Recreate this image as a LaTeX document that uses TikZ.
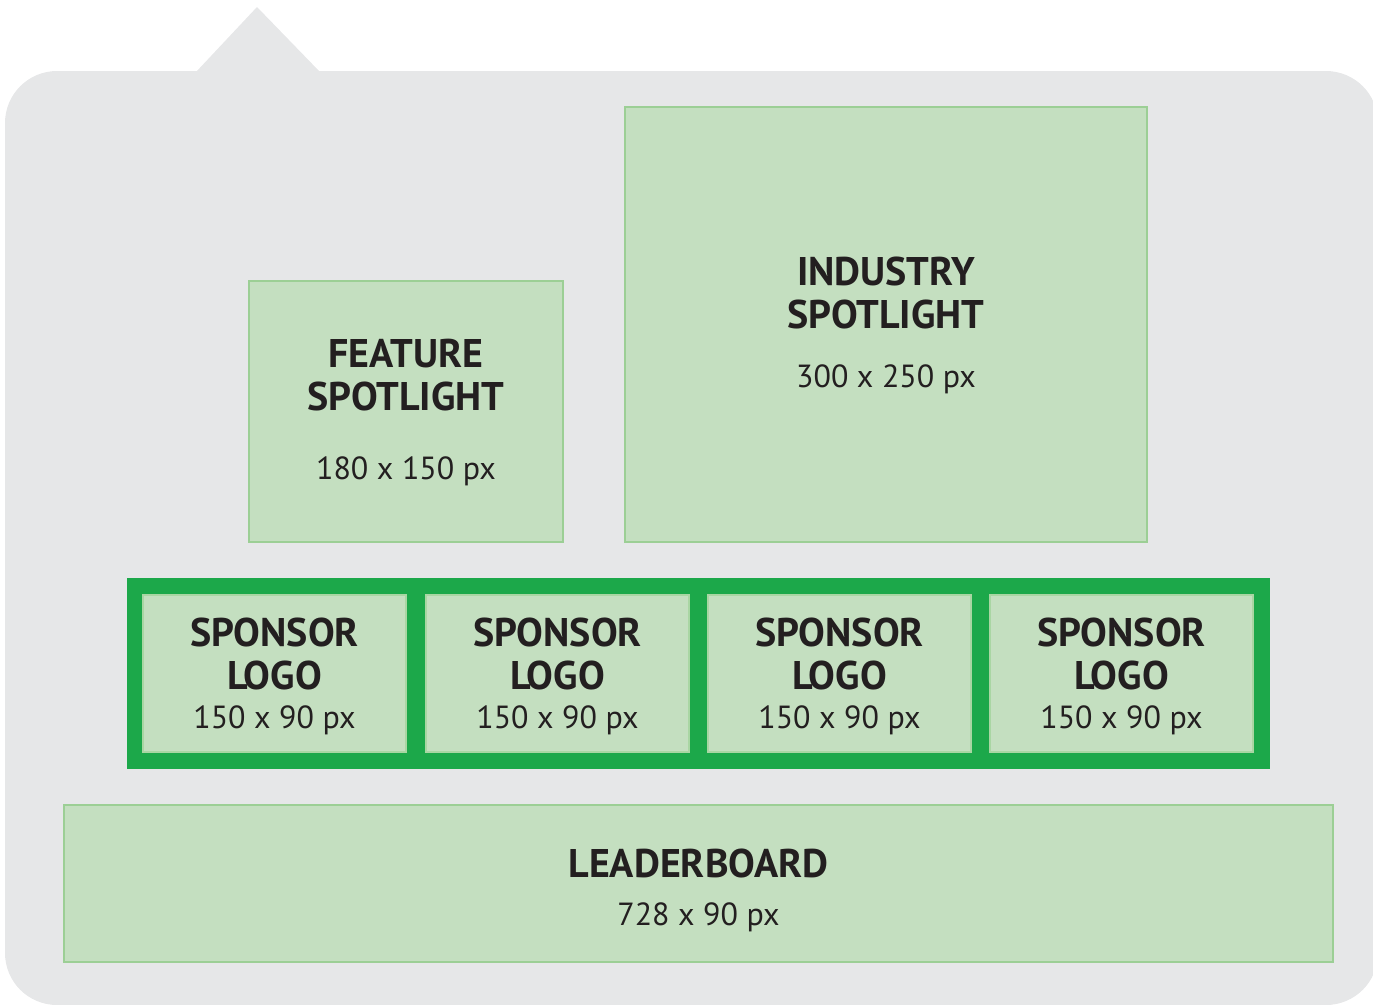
\documentclass[tikz,border=0pt]{standalone}
\usepackage{fontspec}
\setmainfont{PT Sans}
\usetikzlibrary{positioning}

\definecolor{panelgray}{HTML}{E6E7E8}
\definecolor{adfill}{HTML}{C4DFC0}
\definecolor{adline}{HTML}{9CCF95}
\definecolor{slotline}{HTML}{A9D6A3}
\definecolor{sponsorgreen}{HTML}{1CA84A}
\definecolor{adtext}{HTML}{231F20}

\newcommand{\adtitlefont}{\fontsize{40}{43}\selectfont\bfseries}
\newcommand{\adsizefont}{\fontsize{32}{43}\selectfont\mdseries}

\tikzset{
  adbox/.style={draw=adline, line width=2.5pt, fill=adfill, inner sep=0pt},
  slotbox/.style={draw=slotline, line width=2.5pt, fill=adfill, inner sep=0pt,
    minimum width=263, minimum height=157},
  adlabel/.style={inner sep=0pt, align=center, text=adtext, font=\adtitlefont}
}

\begin{document}
\begin{tikzpicture}[x=1pt, y=-1pt]
        \useasboundingbox (0,0) rectangle (1373,1004);
        % background panel with its pointer
        \fill[panelgray] (196,72) -- (257,7) -- (320,72) -- cycle;
        \fill[panelgray, rounded corners=52] (5,71) rectangle (1378,1005);
        % spotlight slots
        \node[adbox, minimum width=314, minimum height=261] (feature) at (406,411.5) {};
        \node[adlabel, yshift=-0.5] (feature-text) at (feature)
              {FEATURE\\SPOTLIGHT\\[26pt]{\adsizefont 180 x 150 px}};
        \node[adbox, minimum width=522, minimum height=435] (industry) at (886,324.5) {};
        \node[adlabel, yshift=-0.5] (industry-text) at (industry)
              {INDUSTRY\\SPOTLIGHT\\[16pt]{\adsizefont 300 x 250 px}};
        % sponsor strip
        \fill[sponsorgreen] (127,578) rectangle (1270,769);
        \foreach \i/\x in {1/274.5,2/557.5,3/839.5,4/1121.5}{
          \node[slotbox] (sponsor\i) at (\x,673.5) {};
          \node[adlabel, yshift=-3] (sponsor\i-text) at (sponsor\i)
                {SPONSOR\\LOGO\\[-4pt]{\adsizefont 150 x 90 px}};
        }
        % leaderboard
        \node[adbox, minimum width=1269, minimum height=157] (leaderboard) at (698.5,883.5) {};
        \node[adlabel, yshift=-7] (leaderboard-text) at (leaderboard)
              {LEADERBOARD\\[5pt]{\adsizefont 728 x 90 px}};
\end{tikzpicture}
\end{document}
